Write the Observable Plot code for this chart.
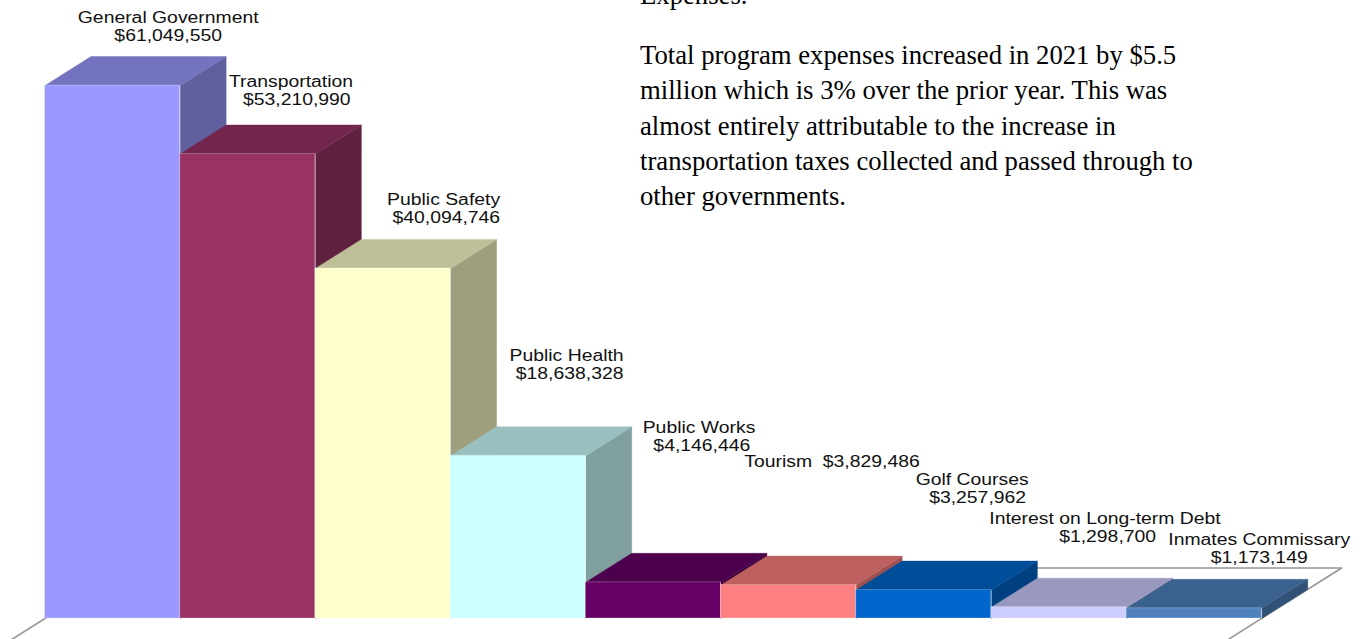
<!DOCTYPE html>
<html>
<head>
<meta charset="utf-8">
<script src="https://cdn.jsdelivr.net/npm/d3@7"></script>
<script src="https://cdn.jsdelivr.net/npm/@observablehq/plot@0.6"></script>
<style>
  html, body { margin: 0; padding: 0; background: #fff; overflow: hidden; }
  #page { position: relative; width: 1366px; height: 639px; overflow: hidden; }
  .note {
    position: absolute; left: 640px; margin: 0; white-space: pre;
    font: 26.7px/35.25px "Liberation Serif", serif; color: #000;
  }
  svg { display: block; }
</style>
</head>
<body>
<div id="page">
  <p class="note" style="top:-21.8px">Expenses.</p>
  <p class="note" style="top:38.2px">Total program expenses increased in 2021 by $5.5
million which is 3% over the prior year. This was
almost entirely attributable to the increase in
transportation taxes collected and passed through to
other governments.</p>
</div>
<script>
// Program expenses by function, fiscal 2021
const categories = ["General Government", "Transportation", "Public Safety", "Public Health", "Public Works", "Tourism", "Golf Courses", "Interest on Long-term Debt", "Inmates Commissary"];
const expenses = [61049550, 53210990, 40094746, 18638328, 4146446, 3829486, 3257962, 1298700, 1173149];
const frontColors = ["#9999ff", "#993366", "#ffffcc", "#ccffff", "#660066", "#ff8080", "#0066cc", "#ccccff", "#4f81bd"];

// Label placement: pixel offsets from the front top centre of each bar
const nameOffsets = [[55.6, -68], [43.2, -72], [60.6, -69], [48.4, -100], [45.6, -154.4], [43.4, -123], [48.4, -110.6], [46, -88.7], [65, -68.8]];
const valueOffsets = [[55.6, -50], [49, -54], [63.3, -50.6], [51.4, -82], [48.4, -136.4], null, [53.8, -92.6], [48.6, -70.7], [65, -50.8]];

// Oblique projection of the bars' depth, in scale units
const depthX = 0.34;
const depthY = 3320000;

// Chart labels are set in a widened face
const labelWiden = 1.21;

const shade = (color, k) => {
  const c = d3.rgb(color);
  return d3.rgb(c.r * k, c.g * k, c.b * k).formatHex();
};
const dollars = (v) => "$" + d3.format(",")(v);

const bars = categories.map((name, i) => ({i, name, value: expenses[i], color: frontColors[i]}));

const sideFaces = bars.flatMap((b) => [
  [b.i + 1, 0],
  [b.i + 1 + depthX, depthY],
  [b.i + 1 + depthX, b.value + depthY],
  [b.i + 1, b.value]
].map(([x, y]) => ({x, y, z: b.name, fill: shade(b.color, 0.625)})));

const topFaces = bars.flatMap((b) => [
  [b.i, b.value],
  [b.i + depthX, b.value + depthY],
  [b.i + 1 + depthX, b.value + depthY],
  [b.i + 1, b.value]
].map(([x, y]) => ({x, y, z: b.name, fill: shade(b.color, 0.75)})));

// The floor outline runs from behind the first bar to past the last one
const floorOutline = [
  {x: 0.592, y: 5780000},
  {x: 9.59, y: 5780000},
  {x: 9.59 - 2.74 * depthX, y: 5780000 - 2.74 * depthY},
  {x: -depthX, y: -depthY},
  {x: 0.592, y: 5780000}
];

const labelFont = {fontFamily: "Liberation Sans, Arial, sans-serif", fontSize: 16, fill: "#111", textAnchor: "middle", lineAnchor: "middle", className: "bar-label"};

const labelMarks = bars.flatMap((b) => {
  const [nx, ny] = nameOffsets[b.i];
  const marks = [];
  const valueOffset = valueOffsets[b.i];
  const first = valueOffset ? b.name : b.name + "  " + dollars(b.value);
  marks.push(Plot.text([b], {x: (d) => d.i + 0.5, y: "value", text: () => first, dx: nx, dy: ny, ...labelFont}));
  if (valueOffset) {
    marks.push(Plot.text([b], {x: (d) => d.i + 0.5, y: "value", text: (d) => dollars(d.value), dx: valueOffset[0], dy: valueOffset[1], ...labelFont}));
  }
  return marks;
});

const chart = Plot.plot({
  width: 1366,
  height: 639,
  margin: 0,
  x: {domain: [-0.3291, 9.7744], axis: null},
  y: {domain: [-2405000, 70790000], axis: null},
  style: {background: "transparent"},
  marks: [
    Plot.line(floorOutline, {x: "x", y: "y", stroke: "#959595", strokeWidth: 1.6, clip: true}),
    Plot.line(sideFaces, {x: "x", y: "y", z: "z", fill: "fill", stroke: "fill", strokeWidth: 0.4}),
    Plot.line(topFaces, {x: "x", y: "y", z: "z", fill: "fill", stroke: "fill", strokeWidth: 0.4}),
    Plot.rect(bars, {x1: "i", x2: (d) => d.i + 1, y1: 0, y2: "value", fill: "color", stroke: "#fff", strokeOpacity: 0.25, strokeWidth: 1}),
    ...labelMarks
  ]
});
document.getElementById("page").prepend(chart);

// Stretch each label once it is in the document and can be measured
chart.querySelectorAll(".bar-label text").forEach((t) => {
  t.setAttribute("textLength", t.getComputedTextLength() * labelWiden);
  t.setAttribute("lengthAdjust", "spacingAndGlyphs");
});
</script>
</body>
</html>
